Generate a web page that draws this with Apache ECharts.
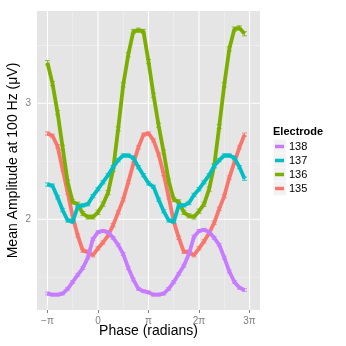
<!DOCTYPE html>
<html>
<head>
<meta charset="utf-8">
<script src="https://cdn.jsdelivr.net/npm/echarts@6/dist/echarts.min.js"></script>
<style>
html,body{margin:0;padding:0;background:#fff}
#main{width:346px;height:346px}
</style>
</head>
<body>
<div id="main"></div>
<script>
// phase in units of pi
var phase = [-1.0,-0.9,-0.8,-0.7,-0.6,-0.5,-0.4,-0.3,-0.2,-0.1,
  0.0,0.1,0.2,0.3,0.4,0.5,0.6,0.7,0.8,0.9,
  1.0,1.1,1.2,1.3,1.4,1.5,1.6,1.7,1.8,1.9,
  2.0,2.1,2.2,2.3,2.4,2.5,2.6,2.7,2.8,2.9]

var e138 = [1.36,1.35,1.35,1.36,1.40,1.46,1.52,1.58,1.67,1.83,
  1.89,1.90,1.89,1.84,1.78,1.70,1.58,1.48,1.40,1.38,
  1.37,1.35,1.35,1.36,1.40,1.46,1.53,1.60,1.70,1.85,
  1.90,1.91,1.89,1.84,1.78,1.67,1.55,1.46,1.41,1.39]
var e137 = [2.30,2.29,2.19,2.08,1.99,1.98,2.11,2.12,2.13,2.20,
  2.26,2.32,2.38,2.45,2.51,2.55,2.55,2.53,2.45,2.38,
  2.31,2.28,2.17,2.07,1.99,1.98,2.12,2.12,2.14,2.21,
  2.26,2.32,2.38,2.46,2.51,2.55,2.55,2.53,2.45,2.35]
var e136 = [3.35,3.17,2.92,2.62,2.32,2.15,2.13,2.05,2.02,2.02,
  2.06,2.13,2.23,2.43,2.78,3.16,3.42,3.62,3.63,3.62,
  3.36,3.07,2.81,2.58,2.33,2.17,2.15,2.06,2.03,2.02,
  2.07,2.13,2.26,2.46,2.80,3.16,3.47,3.64,3.65,3.60]
var e135 = [2.74,2.72,2.63,2.43,2.23,2.02,1.86,1.73,1.72,1.69,
  1.75,1.80,1.86,1.95,2.06,2.17,2.32,2.48,2.62,2.73,
  2.74,2.68,2.56,2.39,2.19,1.98,1.84,1.72,1.72,1.69,
  1.75,1.81,1.88,1.97,2.09,2.20,2.36,2.49,2.62,2.73]

var electrodes = ['138','137','136','135']
var values = {'138': e138, '137': e137, '136': e136, '135': e135}
var colors = {'138':'#C77CFF','137':'#00BFC4','136':'#7CAE00','135':'#F8766D'}
var errs = {'138':0.012,'137':0.014,'136':0.018,'135':0.014}

var xTicks = [-1,0,1,2,3]
var xTickLabels = ['\u2212\u03c0','0','\u03c0','2\u03c0','3\u03c0']
var yTicks = [2,3]
var xMinor = [-0.5,0.5,1.5,2.5]
var yMinor = [1.5,2.5,3.5]

var chart = echarts.init(document.getElementById('main'))

// panel background and grid lines, placed with api.coord
function renderPanel(params, api) {
  var cs = params.coordSys
  var kids = [{type: 'rect', shape: {x: cs.x, y: cs.y, width: cs.width, height: cs.height},
    style: {fill: '#E5E5E5'}}]
  function vline(v, w, c) {
    var px = api.coord([v, 2])[0]
    kids.push({type: 'rect', shape: {x: px - w / 2, y: cs.y, width: w, height: cs.height}, style: {fill: c}})
  }
  function hline(v, w, c) {
    var py = api.coord([0, v])[1]
    kids.push({type: 'rect', shape: {x: cs.x, y: py - w / 2, width: cs.width, height: w}, style: {fill: c}})
  }
  xMinor.forEach(function (v) { vline(v, 0.6, '#F2F2F2') })
  yMinor.forEach(function (v) { hline(v, 0.6, '#F2F2F2') })
  xTicks.forEach(function (v) { vline(v, 1.1, '#FFFFFF') })
  yTicks.forEach(function (v) { hline(v, 1.1, '#FFFFFF') })
  return {type: 'group', children: kids}
}

var series = [{
  type: 'custom', silent: true, z: 1, clip: false, data: [[0, 2]],
  renderItem: renderPanel
}]

// draw 135 first so 138 ends on top
var drawOrder = ['135','136','137','138']
drawOrder.forEach(function (name, n) {
  var pts = phase.map(function (x, i) { return [x, values[name][i]] })
  series.push({
    name: name, type: 'line', data: pts,
    showSymbol: false, symbol: 'none',
    lineStyle: {color: colors[name], width: 3.8},
    itemStyle: {color: colors[name]},
    z: 3 + n * 2
  })
  series.push({
    name: name, type: 'custom', data: pts, z: 4 + n * 2, silent: true,
    renderItem: function (params, api) {
      var x = api.value(0), y = api.value(1), e = errs[name]
      var top = api.coord([x, y + e])
      var bot = api.coord([x, y - e])
      var hw = 2.5
      var st = {fill: colors[name], opacity: 0.8}
      return {
        type: 'group',
        children: [
          {type: 'rect', shape: {x: top[0] - 0.5, y: top[1], width: 1, height: bot[1] - top[1]}, style: st},
          {type: 'rect', shape: {x: top[0] - hw, y: top[1] - 0.5, width: 2 * hw, height: 1}, style: st},
          {type: 'rect', shape: {x: bot[0] - hw, y: bot[1] - 0.5, width: 2 * hw, height: 1}, style: st}
        ]
      }
    }
  })
})

var keyBoxes = [139, 153, 167, 181].map(function (y) {
  return {type: 'rect', left: 273, top: y, shape: {width: 13, height: 14},
    style: {fill: '#F2F2F2', stroke: '#FFFFFF', lineWidth: 0.5}, z: -1}
})

var option = {
  animation: false,
  textStyle: {fontFamily: 'Liberation Sans, Arial, sans-serif'},
  grid: {
    left: 37, right: 86, top: 11, bottom: 36,
    outerBoundsMode: 'none', containLabel: false,
    show: false
  },
  legend: {
    data: electrodes,
    orient: 'vertical',
    left: 275, top: 140, padding: 0,
    icon: 'rect',
    itemWidth: 9, itemHeight: 3.5,
    itemGap: 1,
    textStyle: {fontSize: 11, color: '#000', lineHeight: 13}
  },
  graphic: keyBoxes.concat([
    {type: 'text', left: 273, top: 126,
      style: {text: 'Electrode', fontSize: 11, fontWeight: 'bold', fill: '#000',
        fontFamily: 'Liberation Sans, Arial, sans-serif'}}
  ]),
  xAxis: {
    type: 'value', min: -1.207, max: 3.207,
    name: 'Phase (radians)', nameLocation: 'middle', nameGap: 14, nameMoveOverlap: false,
    nameTextStyle: {fontSize: 14, color: '#000'},
    axisLine: {show: false},
    axisTick: {show: true, customValues: xTicks, length: 3, lineStyle: {color: '#7F7F7F'}},
    axisLabel: {customValues: xTicks, margin: 6, fontSize: 10, color: '#7F7F7F',
      formatter: function (v) { return xTickLabels[xTicks.indexOf(v)] }},
    splitLine: {show: false}
  },
  yAxis: {
    type: 'value', min: 1.218, max: 3.796,
    name: 'Mean Amplitude at 100 Hz (\u03bcV)', nameLocation: 'middle', nameGap: 17, nameMoveOverlap: false,
    nameTextStyle: {fontSize: 14, color: '#000'},
    axisLine: {show: false},
    axisTick: {show: true, customValues: yTicks, length: 3, lineStyle: {color: '#7F7F7F'}},
    axisLabel: {customValues: yTicks, margin: 6, fontSize: 10, color: '#7F7F7F'},
    splitLine: {show: false}
  },
  series: series
}
chart.setOption(option)
</script>
</body>
</html>
